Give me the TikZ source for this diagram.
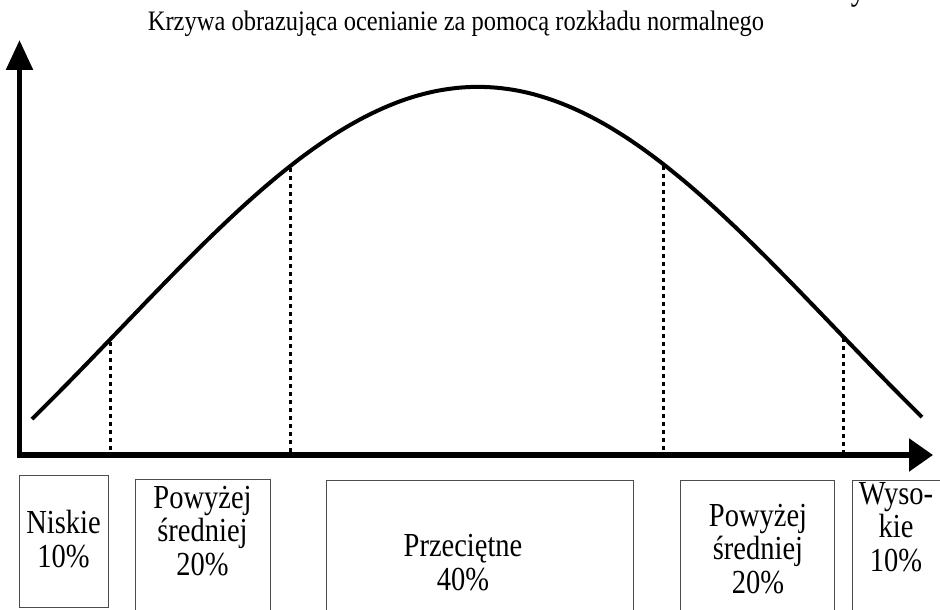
\documentclass[tikz,border=0pt]{standalone}
\usepackage{fontspec}
\setmainfont{Liberation Serif}
\usetikzlibrary{arrows.meta}
\tikzset{
  axisline/.style={line width=5.5pt, line join=miter,
    {Triangle[length=30pt,width=26pt]}-{Triangle[length=24pt,width=32pt]}},
  curveline/.style={line width=4pt},
  dotline/.style={line width=3pt, dash pattern=on 4pt off 4pt},
  boxnode/.style={draw=black!70, line width=1.2pt, inner sep=0pt, anchor=north west},
  lbl/.style={inner sep=0pt, font=\fontsize{28.5}{28.3}\selectfont},
}
\newcommand{\gaussy}[1]{700-613*exp(-(((#1)-478)/357)^2/2)}
\newcommand{\talltext}[1]{\scalebox{1}[1.18]{\begin{tabular}{@{}c@{}}#1\end{tabular}}}
\begin{document}
\begin{tikzpicture}[x=1pt,y=-1pt]
\useasboundingbox (0,0) rectangle (940,610);
\clip (0,0) rectangle (940,610);
% title texts
\node[anchor=base, inner sep=0pt, font=\fontsize{24.5}{28}\selectfont] (title) at (456,31)
  {\scalebox{1}[1.15]{Krzywa obrazująca ocenianie za pomocą rozkładu normalnego}};
\node[anchor=south east, inner sep=0pt, font=\fontsize{30}{34}\selectfont] (fig) at (936,7)
  {\scalebox{1}[1.2]{Rysunek}};
% axes
\coordinate (ytip) at (19.5,40);
\coordinate (xtip) at (933,455);
\draw[axisline] (ytip) |- (xtip);
% curve
\draw[curveline] plot[domain=32:922, samples=150, smooth] (\x, {\gaussy{\x}});
% dotted lines
\foreach \i/\xx in {1/110, 2/290, 3/663, 4/843} {
  \coordinate (c\i) at (\xx, {\gaussy{\xx}+2});
  \coordinate (a\i) at (\xx, 452);
  \draw[dotline] (c\i) -- (a\i);
}
% boxes
\node[boxnode, minimum width=89pt, minimum height=132pt] (b1) at (19,475) {};
\node[boxnode, minimum width=135pt, minimum height=160pt] (b2) at (135,479) {};
\node[boxnode, minimum width=307pt, minimum height=160pt] (b3) at (326,480) {};
\node[boxnode, minimum width=154pt, minimum height=160pt] (b4) at (680,480) {};
\node[boxnode, minimum width=120pt, minimum height=160pt] (b5) at (852,480) {};
% labels
\node[lbl] (t1) at (63.5,544) {\talltext{Niskie\\10\%}};
\node[lbl] (t2) at (202.5,535) {\talltext{Powyżej\\średniej\\20\%}};
\node[lbl] (t3) at (463,567) {\talltext{Przeciętne\\40\%}};
\node[lbl] (t4) at (758,553) {\talltext{Powyżej\\średniej\\20\%}};
\node[lbl] (t5) at (896,531) {\talltext{Wyso-\\kie\\10\%}};
\end{tikzpicture}
\end{document}
